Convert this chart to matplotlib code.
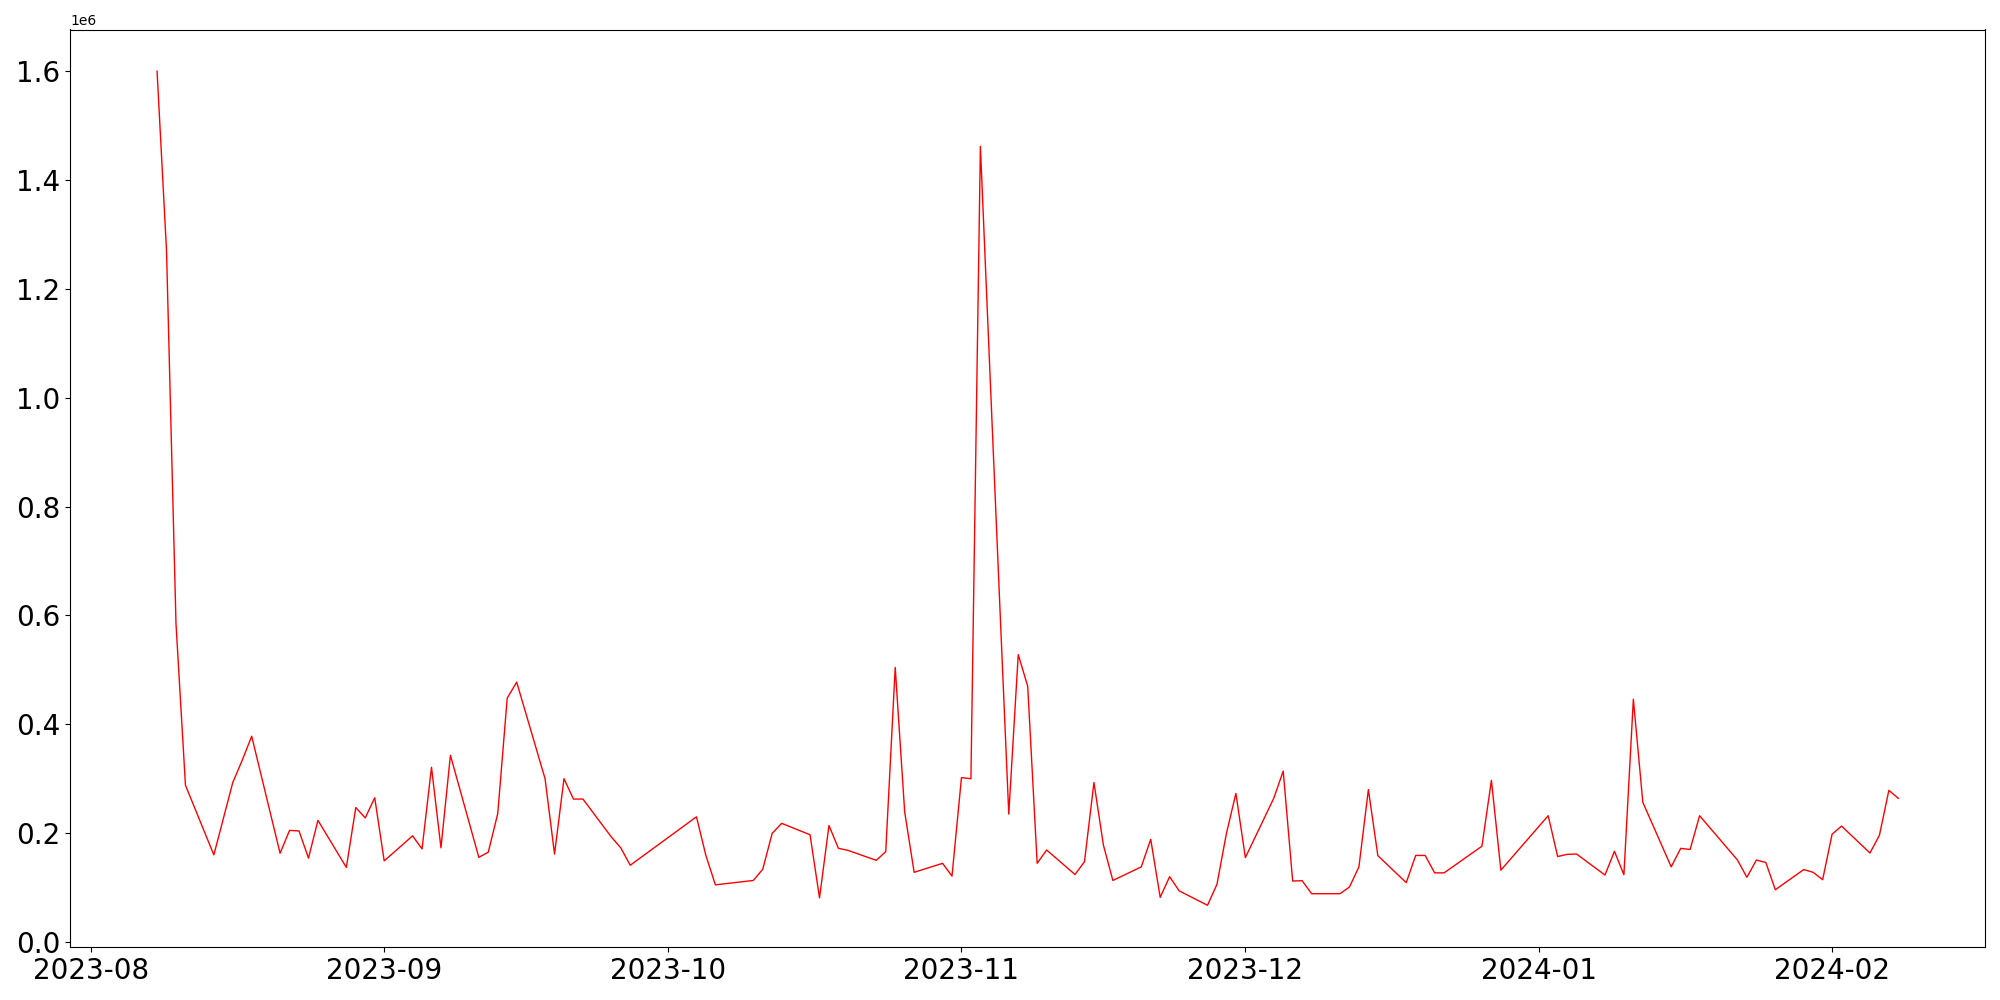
#!/usr/bin/env python3
"""Daily volume line chart, Aug 2023 - Feb 2024."""

import matplotlib
matplotlib.use('Agg')
import matplotlib.pyplot as plt
import pandas as pd

# Dates and values (values in units of 1e6)
dates = [
    '2023-08-08', '2023-08-09', '2023-08-10', '2023-08-11', '2023-08-14', '2023-08-16',
    '2023-08-17', '2023-08-18', '2023-08-21', '2023-08-22', '2023-08-23', '2023-08-24',
    '2023-08-25', '2023-08-28', '2023-08-29', '2023-08-30', '2023-08-31',
    '2023-09-01', '2023-09-04', '2023-09-05', '2023-09-06', '2023-09-07', '2023-09-08',
    '2023-09-11', '2023-09-12', '2023-09-13', '2023-09-14', '2023-09-15', '2023-09-18',
    '2023-09-19', '2023-09-20', '2023-09-21', '2023-09-22', '2023-09-25', '2023-09-26',
    '2023-09-27',
    '2023-10-04', '2023-10-05', '2023-10-06', '2023-10-10', '2023-10-11', '2023-10-12',
    '2023-10-13', '2023-10-16', '2023-10-17', '2023-10-18', '2023-10-19', '2023-10-20',
    '2023-10-23', '2023-10-24', '2023-10-25', '2023-10-26', '2023-10-27', '2023-10-30',
    '2023-10-31',
    '2023-11-01', '2023-11-02', '2023-11-03', '2023-11-04', '2023-11-05', '2023-11-06',
    '2023-11-07', '2023-11-08', '2023-11-09', '2023-11-10', '2023-11-13', '2023-11-14',
    '2023-11-15', '2023-11-16', '2023-11-17', '2023-11-20', '2023-11-21', '2023-11-22',
    '2023-11-23', '2023-11-24', '2023-11-27', '2023-11-28', '2023-11-29', '2023-11-30',
    '2023-12-01', '2023-12-04', '2023-12-05', '2023-12-06', '2023-12-07', '2023-12-08',
    '2023-12-11', '2023-12-12', '2023-12-13', '2023-12-14', '2023-12-15', '2023-12-18',
    '2023-12-19', '2023-12-20', '2023-12-21', '2023-12-22', '2023-12-26', '2023-12-27',
    '2023-12-28',
    '2024-01-02', '2024-01-03', '2024-01-04', '2024-01-05', '2024-01-08', '2024-01-09',
    '2024-01-10', '2024-01-11', '2024-01-12', '2024-01-15', '2024-01-16', '2024-01-17',
    '2024-01-18', '2024-01-22', '2024-01-23', '2024-01-24', '2024-01-25', '2024-01-26',
    '2024-01-29', '2024-01-30', '2024-01-31',
    '2024-02-01', '2024-02-02', '2024-02-05', '2024-02-06', '2024-02-07', '2024-02-08',
]

values = [
    1.600, 1.270, 0.585, 0.288, 0.160, 0.293,
    0.334, 0.378, 0.163, 0.205, 0.204, 0.154,
    0.2235, 0.137, 0.247, 0.228, 0.265,
    0.149, 0.195, 0.171, 0.321, 0.173, 0.343,
    0.1555, 0.165, 0.236, 0.448, 0.4775, 0.300,
    0.1616, 0.300, 0.2626, 0.2626, 0.193, 0.173,
    0.141,
    0.230, 0.1585, 0.105, 0.113, 0.1335, 0.1996,
    0.218, 0.197, 0.081, 0.214, 0.172, 0.1684,
    0.150, 0.166, 0.5045, 0.239, 0.128, 0.1445,
    0.121,
    0.302, 0.300, 1.462, 1.050, 0.640, 0.235,
    0.528, 0.470, 0.1445, 0.169, 0.124, 0.1475,
    0.293, 0.178, 0.113, 0.138, 0.1886, 0.082,
    0.120, 0.094, 0.0674, 0.106, 0.1996, 0.273,
    0.155, 0.264, 0.314, 0.112, 0.1126, 0.0887,
    0.0887, 0.101, 0.138, 0.280, 0.1586, 0.109,
    0.159, 0.159, 0.127, 0.127, 0.176, 0.297,
    0.132,
    0.232, 0.157, 0.161, 0.1616, 0.123, 0.1666,
    0.1236, 0.446, 0.2566, 0.138, 0.172, 0.170,
    0.232, 0.1506, 0.1188, 0.1506, 0.146, 0.096,
    0.133, 0.128, 0.1144,
    0.198, 0.213, 0.1635, 0.196, 0.2786, 0.264,
]


def main():
    x = pd.to_datetime(dates)
    y = [v * 1e6 for v in values]

    fig, ax = plt.subplots(figsize=(20, 10), dpi=100)
    ax.plot(x, y, color='red', linewidth=1.0)

    ax.tick_params(axis='both', labelsize=20)
    fig.subplots_adjust(left=0.035, right=0.9927, bottom=0.053, top=0.9705)

    fig.savefig('out.png', dpi=100)
    plt.close(fig)


if __name__ == '__main__':
    main()
